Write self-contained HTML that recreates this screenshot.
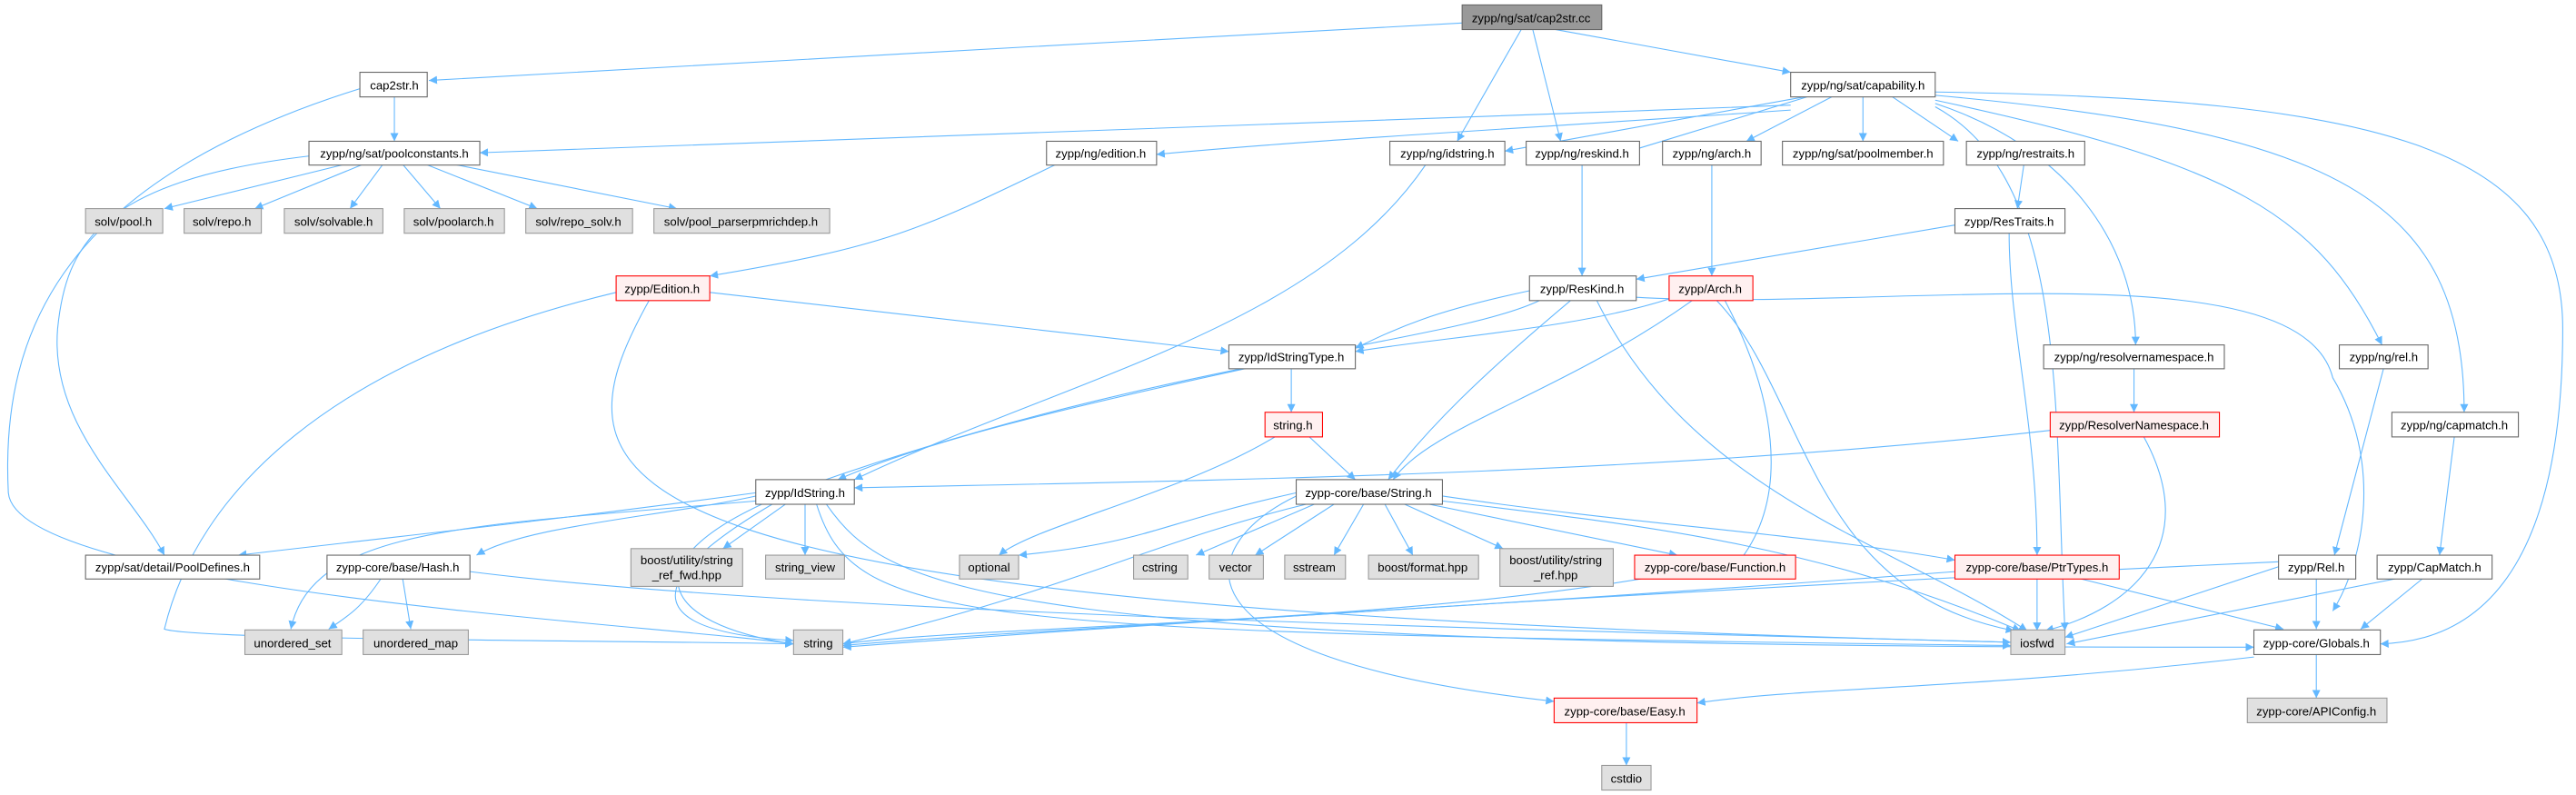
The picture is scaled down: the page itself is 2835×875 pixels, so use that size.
<!DOCTYPE html>
<html><head><meta charset="utf-8"><style>html,body{margin:0;padding:0;background:#fff}svg{display:block}text{font-family:"Liberation Sans",sans-serif;font-size:7.3px;fill:#000;text-anchor:middle}</style></head><body>
<svg width="2835" height="875" viewBox="0 0 1568 484" xmlns="http://www.w3.org/2000/svg">
<defs><marker id="a" viewBox="0 0 10 10" refX="10" refY="5" markerWidth="5" markerHeight="5" orient="auto" markerUnits="userSpaceOnUse"><path d="M0,0 L10,5 L0,10 z" fill="#63b8ff"/></marker></defs>
<g fill="none" stroke="#63b8ff" stroke-width="0.6" marker-end="url(#a)">
<path d="M890,14 C700,25 400,40 261,49"/>
<path d="M947,18 L1090,44"/>
<path d="M926,18 L887,86"/>
<path d="M933,18 L950,86"/>
<path d="M240,59 L240,86"/>
<path d="M219,54 C40,110 0,200 5,300 C10,360 400,380 483,392"/>
<path d="M1090,64 C800,75 500,85 292,93"/>
<path d="M1090,67 C900,80 800,85 704,94"/>
<path d="M1098,59 L916,92"/>
<path d="M1100,59 L992,92"/>
<path d="M1115,59 L1063,86"/>
<path d="M1134,59 L1134,86"/>
<path d="M1152,59 L1192,86"/>
<path d="M1178,63 C1260,90 1300,150 1300,210"/>
<path d="M1178,61 C1360,100 1410,130 1450,210"/>
<path d="M1178,58 C1420,80 1500,120 1500,251"/>
<path d="M1178,65 C1260,110 1250,250 1257,384"/>
<path d="M1178,56 C1450,60 1560,90 1560,200 C1560,330 1520,390 1449,392"/>
<path d="M210,100 L100,127"/>
<path d="M221,100 L155,127"/>
<path d="M233,100 L213,127"/>
<path d="M245,100 L268,127"/>
<path d="M259,100 L327,127"/>
<path d="M276,100 L412,127"/>
<path d="M188,95 C60,110 40,150 35,200 C30,260 80,300 100,338"/>
<path d="M643,100 C560,140 540,150 432,168"/>
<path d="M868,100 C800,200 650,230 520,292"/>
<path d="M963,100 L963,168"/>
<path d="M1042,100 L1042,168"/>
<path d="M1232,100 L1228,127"/>
<path d="M1190,137 L996,170"/>
<path d="M1223,142 C1223,200 1240,260 1240,338"/>
<path d="M432,178 L748,214"/>
<path d="M375,178 C200,220 120,300 100,383 C120,390 400,390 483,392"/>
<path d="M395,183 C330,300 350,370 1224,391"/>
<path d="M931,177 C870,190 850,200 825,212"/>
<path d="M937,183 C880,210 700,220 480,300 C380,340 400,380 483,392"/>
<path d="M956,183 C900,230 870,260 845,292"/>
<path d="M972,183 C1030,300 1150,330 1234,384"/>
<path d="M996,181 C1150,190 1400,150 1420,230 C1450,280 1440,340 1420,372"/>
<path d="M1016,182 C960,200 880,205 825,214"/>
<path d="M1030,183 C950,240 870,260 848,292"/>
<path d="M1045,183 C1100,240 1100,360 1226,384"/>
<path d="M1050,183 C1080,240 1090,300 1060,340 C900,380 600,380 513,392"/>
<path d="M786,224 L786,251"/>
<path d="M760,224 C640,250 560,270 510,292"/>
<path d="M797,266 L825,292"/>
<path d="M776,266 C720,300 630,320 608,338"/>
<path d="M1299,224 L1299,251"/>
<path d="M1248,262 C1000,290 700,293 520,297"/>
<path d="M1305,266 C1340,330 1300,370 1245,384"/>
<path d="M1451,224 L1421,338"/>
<path d="M1494,266 L1485,338"/>
<path d="M460,300 C350,315 300,320 145,338"/>
<path d="M460,302 C400,315 320,320 290,338"/>
<path d="M478,307 L440,334"/>
<path d="M490,307 L490,338"/>
<path d="M460,305 C290,320 190,320 177,383"/>
<path d="M470,307 C380,360 400,385 483,390"/>
<path d="M497,307 C520,380 580,385 1224,393"/>
<path d="M503,307 C540,360 600,395 1372,394"/>
<path d="M232,352 C220,370 212,375 200,383"/>
<path d="M245,352 L250,383"/>
<path d="M286,348 C500,375 1000,385 1224,391"/>
<path d="M789,300 C700,320 700,330 620,338"/>
<path d="M800,307 L728,338"/>
<path d="M812,307 L764,338"/>
<path d="M830,307 L812,338"/>
<path d="M843,307 L860,338"/>
<path d="M855,307 L915,334"/>
<path d="M870,307 L1021,338"/>
<path d="M878,302 C1000,320 1100,325 1190,341"/>
<path d="M878,305 C1000,320 1100,330 1230,384"/>
<path d="M795,307 C700,330 650,360 513,392"/>
<path d="M789,302 C730,330 700,400 946,427"/>
<path d="M1240,352 L1240,384"/>
<path d="M1265,352 L1390,383"/>
<path d="M1190,348 C900,370 600,385 513,393"/>
<path d="M1387,345 L1257,388"/>
<path d="M1410,352 L1410,383"/>
<path d="M1387,342 C1000,360 700,380 513,394"/>
<path d="M1460,352 L1258,392"/>
<path d="M1475,352 L1437,383"/>
<path d="M1372,400 C1200,420 1100,418 1033,428"/>
<path d="M1410,398 L1410,425"/>
<path d="M990,440 L990,466"/>
</g>
<g stroke-width="0.6">
<rect x="890" y="3" width="85" height="15" fill="#999" stroke="#666"/>
<g fill="#fff" stroke="#666">
<rect x="219" y="44" width="41" height="15"/>
<rect x="1090" y="44" width="88" height="15"/>
<rect x="188" y="86" width="104" height="14.5"/>
<rect x="637" y="86" width="67" height="14.5"/>
<rect x="846" y="86" width="70" height="14.5"/>
<rect x="929" y="86" width="69" height="14.5"/>
<rect x="1012" y="86" width="60" height="14.5"/>
<rect x="1085" y="86" width="98" height="14.5"/>
<rect x="1197" y="86" width="72" height="14.5"/>
<rect x="1190" y="127" width="67" height="15"/>
<rect x="931" y="168" width="65" height="15"/>
<rect x="748" y="210" width="77" height="14.5"/>
<rect x="1244" y="210" width="110" height="14.5"/>
<rect x="1424" y="210" width="54" height="14.5"/>
<rect x="1456" y="251" width="77" height="15"/>
<rect x="460" y="292" width="60" height="15"/>
<rect x="789" y="292" width="89" height="15"/>
<rect x="52" y="338" width="106" height="14.5"/>
<rect x="199" y="338" width="87" height="14.5"/>
<rect x="1387" y="338" width="47" height="14.5"/>
<rect x="1447" y="338" width="70" height="14.5"/>
<rect x="1372" y="383.5" width="77" height="15"/>
</g>
<g fill="#fff0f0" stroke="#f00">
<rect x="375" y="168" width="57" height="15"/>
<rect x="1016" y="168" width="51" height="15"/>
<rect x="770" y="251" width="35" height="15"/>
<rect x="1248" y="251" width="103" height="15"/>
<rect x="995" y="338" width="98" height="14.5"/>
<rect x="1190" y="338" width="100" height="14.5"/>
<rect x="946" y="425" width="87" height="15"/>
</g>
<g fill="#e0e0e0" stroke="#999">
<rect x="52" y="127" width="47" height="15"/>
<rect x="112" y="127" width="47" height="15"/>
<rect x="173" y="127" width="60" height="15"/>
<rect x="246" y="127" width="61" height="15"/>
<rect x="320" y="127" width="65" height="15"/>
<rect x="398" y="127" width="107" height="15"/>
<rect x="384" y="334" width="68" height="23"/>
<rect x="466" y="338" width="48" height="14.5"/>
<rect x="584" y="338" width="36" height="14.5"/>
<rect x="690" y="338" width="33" height="14.5"/>
<rect x="736" y="338" width="33" height="14.5"/>
<rect x="782" y="338" width="37" height="14.5"/>
<rect x="833" y="338" width="67" height="14.5"/>
<rect x="913" y="334" width="69" height="23"/>
<rect x="149" y="383.5" width="59" height="15"/>
<rect x="221" y="383.5" width="64" height="15"/>
<rect x="483" y="383.5" width="30" height="15"/>
<rect x="1224" y="383.5" width="33" height="15"/>
<rect x="1368" y="425" width="85" height="15"/>
<rect x="975" y="466" width="30" height="15"/>
</g>
</g>
<g>
<text x="932" y="13.5">zypp/ng/sat/cap2str.cc</text>
<text x="240" y="54.5">cap2str.h</text>
<text x="1134" y="54.5">zypp/ng/sat/capability.h</text>
<text x="240" y="96">zypp/ng/sat/poolconstants.h</text>
<text x="670" y="96">zypp/ng/edition.h</text>
<text x="881" y="96">zypp/ng/idstring.h</text>
<text x="963" y="96">zypp/ng/reskind.h</text>
<text x="1042" y="96">zypp/ng/arch.h</text>
<text x="1134" y="96">zypp/ng/sat/poolmember.h</text>
<text x="1233" y="96">zypp/ng/restraits.h</text>
<text x="75" y="137.5">solv/pool.h</text>
<text x="135" y="137.5">solv/repo.h</text>
<text x="203" y="137.5">solv/solvable.h</text>
<text x="276" y="137.5">solv/poolarch.h</text>
<text x="352" y="137.5">solv/repo_solv.h</text>
<text x="451" y="137.5">solv/pool_parserpmrichdep.h</text>
<text x="1223" y="137.5">zypp/ResTraits.h</text>
<text x="403" y="178.5">zypp/Edition.h</text>
<text x="963" y="178.5">zypp/ResKind.h</text>
<text x="1041" y="178.5">zypp/Arch.h</text>
<text x="786" y="220">zypp/IdStringType.h</text>
<text x="1299" y="220">zypp/ng/resolvernamespace.h</text>
<text x="1451" y="220">zypp/ng/rel.h</text>
<text x="787" y="261.5">string.h</text>
<text x="1299" y="261.5">zypp/ResolverNamespace.h</text>
<text x="1494" y="261.5">zypp/ng/capmatch.h</text>
<text x="490" y="302.5">zypp/IdString.h</text>
<text x="833" y="302.5">zypp-core/base/String.h</text>
<text x="105" y="348">zypp/sat/detail/PoolDefines.h</text>
<text x="242" y="348">zypp-core/base/Hash.h</text>
<text x="418" y="343.5">boost/utility/string</text>
<text x="418" y="352.5">_ref_fwd.hpp</text>
<text x="490" y="348">string_view</text>
<text x="602" y="348">optional</text>
<text x="706" y="348">cstring</text>
<text x="752" y="348">vector</text>
<text x="800" y="348">sstream</text>
<text x="866" y="348">boost/format.hpp</text>
<text x="947" y="343.5">boost/utility/string</text>
<text x="947" y="352.5">_ref.hpp</text>
<text x="1044" y="348">zypp-core/base/Function.h</text>
<text x="1240" y="348">zypp-core/base/PtrTypes.h</text>
<text x="1410" y="348">zypp/Rel.h</text>
<text x="1482" y="348">zypp/CapMatch.h</text>
<text x="178" y="394">unordered_set</text>
<text x="253" y="394">unordered_map</text>
<text x="498" y="394">string</text>
<text x="1240" y="394">iosfwd</text>
<text x="1410" y="394">zypp-core/Globals.h</text>
<text x="989" y="435.5">zypp-core/base/Easy.h</text>
<text x="1410" y="435.5">zypp-core/APIConfig.h</text>
<text x="990" y="476.5">cstdio</text>
</g>
</svg>
</body></html>
